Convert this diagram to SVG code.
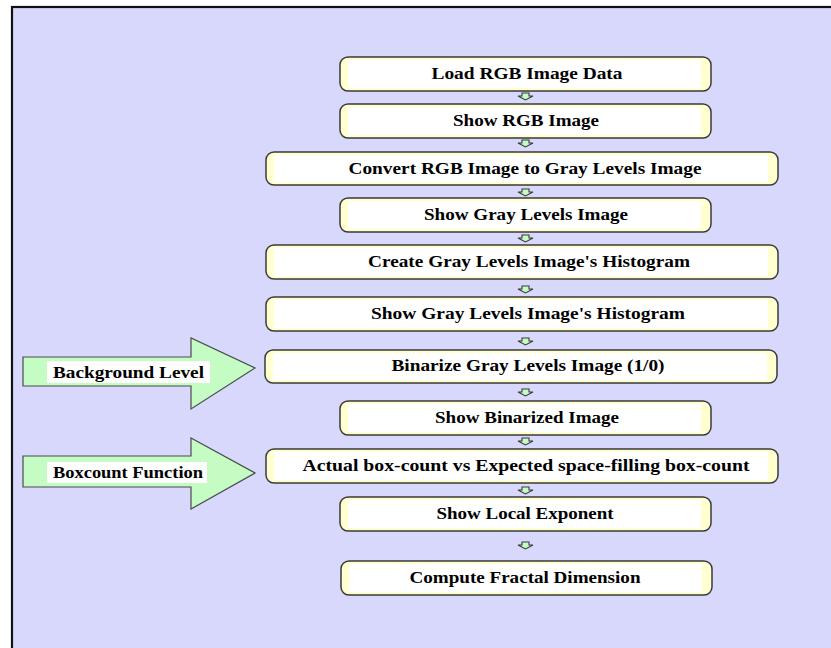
<svg xmlns="http://www.w3.org/2000/svg" width="831" height="648" viewBox="0 0 831 648">
<defs>
<style>
.box{fill:#ffffd0;stroke:#3a3a3a;stroke-width:1.5}
.inner{fill:#ffffff}
.t{font-family:"Liberation Serif","Times New Roman",serif;font-weight:bold;font-size:17px;fill:#000;text-anchor:middle}
.lt{font-family:"Liberation Serif","Times New Roman",serif;font-weight:bold;font-size:17px;fill:#000}
.sa{fill:#c4fcc4;stroke:#3a3a3a;stroke-width:1.1}
.ba{fill:#c4fcc4;stroke:#4a4a4a;stroke-width:1.2}
</style>
</defs>
<rect x="0" y="0" width="831" height="648" fill="#ffffff"/>
<rect x="12" y="7" width="830" height="660" fill="#d8d8fc" stroke="#111" stroke-width="2.2"/>

<g id="connectors">
<polygon class="sa" points="522,93 529,93 529,96 533,96 525.5,100 518,96 522,96"/>
<polygon class="sa" points="522,140 529,140 529,143 533,143 525.5,147 518,143 522,143"/>
<polygon class="sa" points="522,189 529,189 529,192 533,192 525.5,196 518,192 522,192"/>
<polygon class="sa" points="522,235 529,235 529,238 533,238 525.5,242 518,238 522,238"/>
<polygon class="sa" points="522,286 529,286 529,289 533,289 525.5,293 518,289 522,289"/>
<polygon class="sa" points="522,338 529,338 529,341 533,341 525.5,345 518,341 522,341"/>
<polygon class="sa" points="522,389 529,389 529,392 533,392 525.5,396 518,392 522,392"/>
<polygon class="sa" points="522,438 529,438 529,441 533,441 525.5,445 518,441 522,441"/>
<polygon class="sa" points="522,487 529,487 529,490 533,490 525.5,494 518,490 522,490"/>
<polygon class="sa" points="522,542 529,542 529,545 533,545 525.5,549 518,545 522,545"/>
</g>

<g id="n1"><rect class="box" x="340" y="57" width="371" height="34" rx="8"/><rect class="inner" x="348" y="60" width="353" height="28"/><text class="t" x="527" y="79" textLength="191" lengthAdjust="spacingAndGlyphs">Load RGB Image Data</text></g>
<g id="n2"><rect class="box" x="340" y="104" width="371" height="34" rx="8"/><rect class="inner" x="348" y="107" width="353" height="28"/><text class="t" x="526" y="126" textLength="146" lengthAdjust="spacingAndGlyphs">Show RGB Image</text></g>
<g id="n3"><rect class="box" x="266" y="152" width="512" height="33" rx="8"/><rect class="inner" x="274" y="155" width="494" height="27"/><text class="t" x="525" y="174" textLength="353" lengthAdjust="spacingAndGlyphs">Convert RGB Image to Gray Levels Image</text></g>
<g id="n4"><rect class="box" x="340" y="198" width="371" height="34" rx="8"/><rect class="inner" x="348" y="201" width="353" height="28"/><text class="t" x="526" y="220" textLength="204" lengthAdjust="spacingAndGlyphs">Show Gray Levels Image</text></g>
<g id="n5"><rect class="box" x="266" y="245" width="512" height="34" rx="8"/><rect class="inner" x="274" y="248" width="494" height="28"/><text class="t" x="529" y="267" textLength="322" lengthAdjust="spacingAndGlyphs">Create Gray Levels Image's Histogram</text></g>
<g id="n6"><rect class="box" x="266" y="297" width="512" height="34" rx="8"/><rect class="inner" x="274" y="300" width="494" height="28"/><text class="t" x="528" y="319" textLength="314" lengthAdjust="spacingAndGlyphs">Show Gray Levels Image's Histogram</text></g>
<g id="n7"><rect class="box" x="265" y="350" width="512" height="33" rx="8"/><rect class="inner" x="273" y="353" width="494" height="27"/><text class="t" x="528" y="371" textLength="273" lengthAdjust="spacingAndGlyphs">Binarize Gray Levels Image (1/0)</text></g>
<g id="n8"><rect class="box" x="340" y="401" width="371" height="34" rx="8"/><rect class="inner" x="348" y="404" width="353" height="28"/><text class="t" x="527" y="423" textLength="184" lengthAdjust="spacingAndGlyphs">Show Binarized Image</text></g>
<g id="n9"><rect class="box" x="266" y="449" width="512" height="34" rx="8"/><rect class="inner" x="274" y="452" width="494" height="28"/><text class="t" x="526" y="471" textLength="447" lengthAdjust="spacingAndGlyphs">Actual box-count vs Expected space-filling box-count</text></g>
<g id="n10"><rect class="box" x="340" y="497" width="371" height="34" rx="8"/><rect class="inner" x="348" y="500" width="353" height="28"/><text class="t" x="525" y="519" textLength="177" lengthAdjust="spacingAndGlyphs">Show Local Exponent</text></g>
<g id="n11"><rect class="box" x="341" y="561" width="371" height="34" rx="8"/><rect class="inner" x="349" y="564" width="353" height="28"/><text class="t" x="525" y="583" textLength="231" lengthAdjust="spacingAndGlyphs">Compute Fractal Dimension</text></g>

<g id="bg-level">
<polygon class="ba" points="23,357 191,357 191,338 255,368 191,409 191,386 23,386"/>
<rect x="47" y="361" width="163" height="22" fill="#ffffff"/>
<text class="lt" x="53" y="378" textLength="151" lengthAdjust="spacingAndGlyphs">Background Level</text>
</g>
<g id="boxcount">
<polygon class="ba" points="23,456 191,456 191,438 255,473 191,509 191,487 23,487"/>
<rect x="47" y="462" width="160" height="21" fill="#ffffff"/>
<text class="lt" x="53" y="478" textLength="150" lengthAdjust="spacingAndGlyphs">Boxcount Function</text>
</g>
</svg>
